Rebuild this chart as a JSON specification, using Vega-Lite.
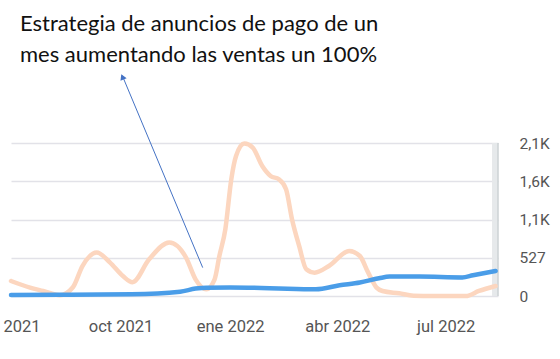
{
  "$schema": "https://vega.github.io/schema/vega-lite/v6.json",
  "autosize": {"type": "none"},
  "width": 487,
  "height": 153,
  "padding": {"left": 11, "top": 143, "right": 62, "bottom": 63},
  "background": "white",
  "title": {
    "text": ["Estrategia de anuncios de pago de un", "mes aumentando las ventas un 100%"],
    "anchor": "start",
    "frame": "group",
    "baseline": "top",
    "offset": 7,
    "dx": 9,
    "font": "Lato",
    "fontSize": 22,
    "fontWeight": "normal",
    "color": "#111111",
    "lineHeight": 31
  },
  "config": {"view": {"stroke": null}},
  "datasets": {
    "series": [
      {"fecha": "2021-07-01", "valor": 207, "serie": "De pago"},
      {"fecha": "2021-07-17", "valor": 115, "serie": "De pago"},
      {"fecha": "2021-07-28", "valor": 69, "serie": "De pago"},
      {"fecha": "2021-08-11", "valor": 10, "serie": "De pago"},
      {"fecha": "2021-08-22", "valor": 120, "serie": "De pago"},
      {"fecha": "2021-08-30", "valor": 413, "serie": "De pago"},
      {"fecha": "2021-09-11", "valor": 598, "serie": "De pago"},
      {"fecha": "2021-09-22", "valor": 464, "serie": "De pago"},
      {"fecha": "2021-10-03", "valor": 275, "serie": "De pago"},
      {"fecha": "2021-10-11", "valor": 190, "serie": "De pago"},
      {"fecha": "2021-10-25", "valor": 506, "serie": "De pago"},
      {"fecha": "2021-11-11", "valor": 736, "serie": "De pago"},
      {"fecha": "2021-11-25", "valor": 529, "serie": "De pago"},
      {"fecha": "2021-12-03", "valor": 230, "serie": "De pago"},
      {"fecha": "2021-12-12", "valor": 92, "serie": "De pago"},
      {"fecha": "2021-12-19", "valor": 230, "serie": "De pago"},
      {"fecha": "2021-12-23", "valor": 551, "serie": "De pago"},
      {"fecha": "2021-12-28", "valor": 919, "serie": "De pago"},
      {"fecha": "2022-01-02", "valor": 1608, "serie": "De pago"},
      {"fecha": "2022-01-06", "valor": 1929, "serie": "De pago"},
      {"fecha": "2022-01-13", "valor": 2100, "serie": "De pago"},
      {"fecha": "2022-01-20", "valor": 2045, "serie": "De pago"},
      {"fecha": "2022-01-28", "valor": 1791, "serie": "De pago"},
      {"fecha": "2022-02-04", "valor": 1654, "serie": "De pago"},
      {"fecha": "2022-02-11", "valor": 1608, "serie": "De pago"},
      {"fecha": "2022-02-17", "valor": 1470, "serie": "De pago"},
      {"fecha": "2022-02-22", "valor": 1057, "serie": "De pago"},
      {"fecha": "2022-02-28", "valor": 689, "serie": "De pago"},
      {"fecha": "2022-03-06", "valor": 368, "serie": "De pago"},
      {"fecha": "2022-03-13", "valor": 322, "serie": "De pago"},
      {"fecha": "2022-03-25", "valor": 413, "serie": "De pago"},
      {"fecha": "2022-04-11", "valor": 620, "serie": "De pago"},
      {"fecha": "2022-04-20", "valor": 551, "serie": "De pago"},
      {"fecha": "2022-04-27", "valor": 322, "serie": "De pago"},
      {"fecha": "2022-05-04", "valor": 115, "serie": "De pago"},
      {"fecha": "2022-05-09", "valor": 69, "serie": "De pago"},
      {"fecha": "2022-05-23", "valor": 37, "serie": "De pago"},
      {"fecha": "2022-06-04", "valor": 5, "serie": "De pago"},
      {"fecha": "2022-06-20", "valor": 0, "serie": "De pago"},
      {"fecha": "2022-07-18", "valor": 0, "serie": "De pago"},
      {"fecha": "2022-07-29", "valor": 69, "serie": "De pago"},
      {"fecha": "2022-08-12", "valor": 138, "serie": "De pago"},
      {"fecha": "2021-07-01", "valor": 15, "serie": "Orgánico"},
      {"fecha": "2021-08-11", "valor": 18, "serie": "Orgánico"},
      {"fecha": "2021-10-10", "valor": 25, "serie": "Orgánico"},
      {"fecha": "2021-11-20", "valor": 60, "serie": "Orgánico"},
      {"fecha": "2021-12-03", "valor": 102, "serie": "Orgánico"},
      {"fecha": "2021-12-12", "valor": 115, "serie": "Orgánico"},
      {"fecha": "2022-01-01", "valor": 118, "serie": "Orgánico"},
      {"fecha": "2022-02-03", "valor": 108, "serie": "Orgánico"},
      {"fecha": "2022-02-11", "valor": 104, "serie": "Orgánico"},
      {"fecha": "2022-03-14", "valor": 92, "serie": "Orgánico"},
      {"fecha": "2022-04-03", "valor": 147, "serie": "Orgánico"},
      {"fecha": "2022-04-20", "valor": 185, "serie": "Orgánico"},
      {"fecha": "2022-05-06", "valor": 244, "serie": "Orgánico"},
      {"fecha": "2022-05-15", "valor": 267, "serie": "Orgánico"},
      {"fecha": "2022-06-09", "valor": 267, "serie": "Orgánico"},
      {"fecha": "2022-07-15", "valor": 256, "serie": "Orgánico"},
      {"fecha": "2022-07-24", "valor": 285, "serie": "Orgánico"},
      {"fecha": "2022-08-12", "valor": 345, "serie": "Orgánico"}
    ],
    "flecha": [
      {"fecha": "2021-12-09", "valor": 391, "fecha2": "2021-10-02T12:00", "valor2": 3035}
    ],
    "punta": [
      {"fecha": "2021-10-02T14:00", "valor": 3020}
    ],
    "banda": [
      {"inicio": "2022-08-09", "fin": "2022-08-14", "bajo": 0, "alto": 2108}
    ]
  },
  "layer": [
    {
      "data": {"name": "banda"},
      "mark": {"type": "rect", "color": "#E6E9EB"},
      "encoding": {
        "x": {"field": "inicio", "type": "temporal", "scale": {"type": "utc", "domain": ["2021-07-01", "2022-08-14"]},
          "axis": {
            "values": [{"year": 2021, "month": 7, "date": 1, "utc": true}, {"year": 2021, "month": 10, "date": 1, "utc": true}, {"year": 2022, "month": 1, "date": 1, "utc": true}, {"year": 2022, "month": 4, "date": 1, "utc": true}, {"year": 2022, "month": 7, "date": 1, "utc": true}],
            "labelExpr": "['ene','feb','mar','abr','may','jun','jul','ago','sep','oct','nov','dic'][utcmonth(datum.value)] + ' ' + utcyear(datum.value)",
            "title": null, "grid": false, "domain": false, "ticks": false,
            "labelFont": "Roboto", "labelFontSize": 16.5, "labelColor": "#555555", "labelPadding": 22, "labelFlush": false, "labelOverlap": false
          }
        },
        "x2": {"field": "fin"},
        "y": {"field": "bajo", "type": "quantitative", "scale": {"domain": [0, 2108], "nice": false, "zero": true},
          "axis": {
            "orient": "right", "values": [0, 527, 1054, 1581, 2108], "tickCount": 5,
            "labelExpr": "datum.value == 0 ? '0' : datum.value == 527 ? '527' : datum.value == 1054 ? '1,1K' : datum.value == 1581 ? '1,6K' : '2,1K'",
            "title": null, "grid": true, "gridColor": "#E2E2E8", "gridWidth": 1.5, "domain": false, "ticks": false,
            "labelFont": "Roboto", "labelFontSize": 15.5, "labelColor": "#555555", "labelPadding": 21, "labelFlush": false, "labelOverlap": false
          }
        },
        "y2": {"field": "alto"}
      }
    },
    {
      "data": {"name": "banda"},
      "mark": {"type": "rule", "color": "#CDD2D5", "strokeWidth": 1.5},
      "encoding": {
        "x": {"field": "fin", "type": "temporal"},
        "y": {"field": "bajo", "type": "quantitative"},
        "y2": {"field": "alto"}
      }
    },
    {
      "data": {"name": "series"},
      "mark": {"type": "line", "interpolate": "monotone", "strokeWidth": 4.5, "strokeCap": "round"},
      "encoding": {
        "x": {"field": "fecha", "type": "temporal"},
        "y": {"field": "valor", "type": "quantitative"},
        "color": {"field": "serie", "type": "nominal", "scale": {"domain": ["De pago", "Orgánico"], "range": ["#FCD6BF", "#4A9DE8"]}, "legend": null},
        "order": {"field": "serie"}
      }
    },
    {
      "data": {"name": "flecha"},
      "mark": {"type": "rule", "color": "#4472C4", "strokeWidth": 1},
      "encoding": {
        "x": {"field": "fecha", "type": "temporal"},
        "y": {"field": "valor", "type": "quantitative"},
        "x2": {"field": "fecha2"},
        "y2": {"field": "valor2"}
      }
    },
    {
      "data": {"name": "punta"},
      "mark": {"type": "point", "shape": "triangle-up", "filled": true, "color": "#4472C4", "size": 45, "angle": -23, "opacity": 1},
      "encoding": {
        "x": {"field": "fecha", "type": "temporal"},
        "y": {"field": "valor", "type": "quantitative"}
      }
    }
  ]
}
